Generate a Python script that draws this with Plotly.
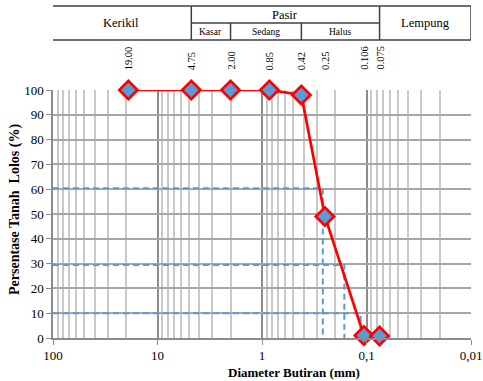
import math
import plotly.graph_objects as go

# ---- data ----
sieve_sizes = [19.00, 4.75, 2.00, 0.85, 0.42, 0.25, 0.106, 0.075]
sieve_labels = ["19.00", "4.75", "2.00", "0.85", "0.42", "0.25", "0.106", "0.075"]
percent_passing = [100, 100, 100, 100, 98, 49, 1, 0.8]

d_percent = [60.4, 29.4, 10]          # D60, D30, D10 levels
d_diameter = [0.262, 0.163, 0.114]    # corresponding diameters

x_tick_vals = [100, 10, 1, 0.1, 0.01]
x_tick_text = ["100", "10", "1", "0,1", "0,01"]

header_main = [("Kerikil", 104.5, 4.75), ("Pasir", 4.75, 0.075), ("Lempung", 0.075, 0.01)]
header_sub = [("Kasar", 4.75, 2.00), ("Sedang", 2.00, 0.42), ("Halus", 0.42, 0.075)]

SERIF = "Liberation Serif"
BLUE = "#5b9bd5"

fig = go.Figure()

# dashed D-lines
for p, d in zip(d_percent, d_diameter):
    fig.add_trace(go.Scatter(
        x=[100, d, d], y=[p, p, 0], mode="lines",
        line=dict(color=BLUE, width=2, dash="6px,4px"),
        hoverinfo="skip", showlegend=False))

# gradation curve
fig.add_trace(go.Scatter(
    x=sieve_sizes, y=percent_passing, mode="lines+markers",
    line=dict(color="#ff0000", width=2.7),
    marker=dict(symbol="diamond", size=14, color=BLUE,
                line=dict(color="#ff0000", width=2.7)),
    cliponaxis=False, showlegend=False))

minor_vals = []
for dec in [10, 1, 0.1, 0.01]:
    for k in range(2, 10):
        minor_vals.append(k * dec)

fig.update_layout(
    template="none",
    width=483, height=381, autosize=False,
    margin=dict(l=53, r=12, t=90, b=43, pad=0),
    paper_bgcolor="white", plot_bgcolor="white",
    font=dict(family=SERIF, size=13, color="black"),
    xaxis=dict(
        type="log", range=[2, -2], automargin=False,
        tickmode="array", tickvals=x_tick_vals, ticktext=x_tick_text,
        showgrid=True, gridcolor="#8c8c8c", gridwidth=1.5,
        showline=True, linecolor="#8c8c8c", linewidth=1.5,
        ticks="outside", ticklen=5, tickcolor="#8c8c8c",
        minor=dict(tickmode="array", tickvals=minor_vals, showgrid=True,
                   gridcolor="#c8c8c8", gridwidth=1.5, ticks=""),
        zeroline=False, tickfont=dict(size=13, family=SERIF),
    ),
    yaxis=dict(
        range=[0, 100], dtick=10, tick0=0, automargin=False,
        showgrid=True, gridcolor="#a6a6a6", gridwidth=1.5,
        showline=True, linecolor="#8c8c8c", linewidth=1.5,
        ticks="outside", ticklen=5, tickcolor="#8c8c8c",
        zeroline=False, tickfont=dict(size=13, family=SERIF),
    ),
)

def lx(v):
    return math.log10(v)

def py(pix):
    return (338 - pix) / 248.0

# header table (shapes on log axes take raw data values)
top, mid, bot = py(6), py(23), py(40)
lc = dict(color="#404040", width=1.5)
fig.add_shape(type="rect", xref="x", yref="paper", x0=104.5, x1=0.01,
              y0=bot, y1=top, line=lc)
fig.add_shape(type="line", xref="x", yref="paper", x0=4.75, x1=0.075,
              y0=mid, y1=mid, line=lc)
for v in [4.75, 0.075]:
    fig.add_shape(type="line", xref="x", yref="paper", x0=v, x1=v,
                  y0=bot, y1=top, line=lc)
for v in [2.00, 0.42]:
    fig.add_shape(type="line", xref="x", yref="paper", x0=v, x1=v,
                  y0=bot, y1=mid, line=lc)

# annotations on log axes take log10 values
for name, a, b in header_main:
    cx = (lx(a) + lx(b)) / 2
    yy = (mid + top) / 2 if name == "Pasir" else (bot + top) / 2
    fig.add_annotation(x=cx, y=yy, xref="x", yref="paper", text=name,
                       showarrow=False, font=dict(size=12.5, family=SERIF),
                       xanchor="center", yanchor="middle")
for name, a, b in header_sub:
    cx = (lx(a) + lx(b)) / 2
    fig.add_annotation(x=cx, y=(bot + mid) / 2, xref="x", yref="paper", text=name,
                       showarrow=False, font=dict(size=9.5, family=SERIF),
                       xanchor="center", yanchor="middle")

# rotated sieve labels
for v, t in zip(sieve_sizes, sieve_labels):
    fig.add_annotation(x=lx(v), y=py(72), xref="x", yref="paper", text=t,
                       textangle=-90, showarrow=False,
                       font=dict(size=10.5, family=SERIF),
                       xanchor="center", yanchor="bottom")

# axis titles
fig.add_annotation(x=(293.5 - 53) / 418, y=py(372), xref="paper", yref="paper",
                   text="<b>Diameter Butiran (mm)</b>", showarrow=False,
                   font=dict(size=13, family=SERIF), xanchor="center", yanchor="middle")
fig.add_annotation(x=(15 - 53) / 418, y=py(210), xref="paper", yref="paper",
                   text="<b>Persentase Tanah&nbsp; Lolos (%)</b>", textangle=-90,
                   showarrow=False, font=dict(size=14, family=SERIF),
                   xanchor="center", yanchor="middle")

fig.write_html("out.html", config={"responsive": False, "displayModeBar": False},
               post_script="document.body.style.margin='0';")
